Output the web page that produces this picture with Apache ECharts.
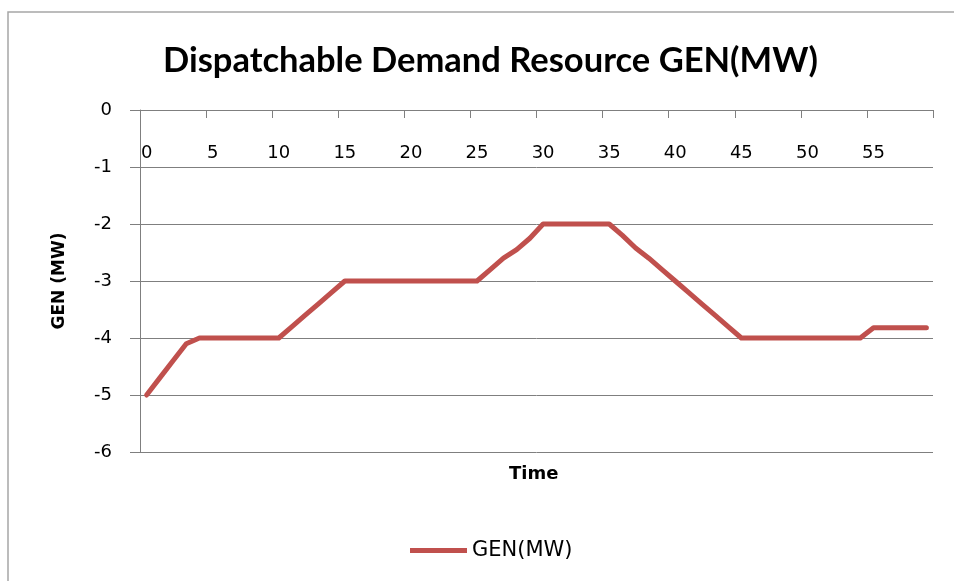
<!DOCTYPE html>
<html>
<head>
<meta charset="utf-8">
<script src="https://cdn.jsdelivr.net/npm/echarts@6/dist/echarts.min.js"></script>
<style>
html,body{margin:0;padding:0;background:#fff;}
#chart{width:954px;height:581px;}
</style>
</head>
<body>
<div id="chart"></div>
<script>
const minutes = ['0','1','2','3','4','5','6','7','8','9','10','11','12','13','14','15','16','17','18','19',
  '20','21','22','23','24','25','26','27','28','29','30','31','32','33','34','35','36','37','38','39',
  '40','41','42','43','44','45','46','47','48','49','50','51','52','53','54','55','56','57','58','59'];
const genMW = [-5, -4.7, -4.4, -4.1, -4,
  -4, -4, -4, -4, -4, -4,
  -3.8, -3.6, -3.4, -3.2, -3,
  -3, -3, -3, -3, -3, -3, -3, -3, -3, -3,
  -2.8, -2.6, -2.45, -2.25, -2,
  -2, -2, -2, -2, -2,
  -2.2, -2.42, -2.6, -2.8, -3, -3.2, -3.4, -3.6, -3.8, -4,
  -4, -4, -4, -4, -4, -4, -4, -4, -4,
  -3.82, -3.82, -3.82, -3.82, -3.82];
const yTicks = [-6, -5, -4, -3, -2, -1, 0];
const titleText = 'Dispatchable Demand Resource GEN(MW)';
const seriesName = 'GEN(MW)';
const xName = 'Time';
const yName = 'GEN (MW)';

const chart = echarts.init(document.getElementById('chart'), null, {renderer: 'canvas'});
const gray = '#7f7f7f';
const lblFont = 'DejaVu Sans';
chart.setOption({
  animation: false,
  backgroundColor: '#ffffff',
  title: {
    text: titleText,
    left: 158, top: 38,
    textStyle: {fontFamily: 'Lato', fontWeight: 'bold', fontSize: 34.5, color: '#000'}
  },
  grid: {left: 140, top: 110, right: 21, bottom: 129, containLabel: false},
  legend: {
    data: [{name: seriesName, icon: 'rect'}],
    left: 405, top: 535,
    itemWidth: 57, itemHeight: 5, itemGap: 4,
    textStyle: {fontFamily: lblFont, fontSize: 21, color: '#000', padding: [0,0,0,0]}
  },
  xAxis: {
    type: 'category',
    position: 'top',
    data: minutes,
    boundaryGap: true,
    axisLine: {show: true, onZero: false, lineStyle: {color: gray, width: 1}},
    axisTick: {show: true, inside: true, length: 8, interval: 4, lineStyle: {color: gray}},
    axisLabel: {inside: true, interval: 4, margin: 34, fontFamily: lblFont, fontSize: 18, color: '#000'},
    splitLine: {show: false}
  },
  yAxis: {
    type: 'value',
    min: yTicks[0], max: yTicks[yTicks.length - 1], interval: 1,
    name: yName, nameLocation: 'middle', nameRotate: 90, nameGap: 72,
    nameTextStyle: {fontFamily: lblFont, fontWeight: 'bold', fontSize: 17, color: '#000'},
    axisLine: {show: true, lineStyle: {color: gray, width: 1}},
    axisTick: {show: true, inside: false, length: 10, lineStyle: {color: gray}},
    axisLabel: {margin: 28, fontFamily: lblFont, fontSize: 18, color: '#000'},
    splitLine: {show: true, lineStyle: {color: gray, width: 1}}
  },
  graphic: [
    {type: 'rect', silent: true, z: -1,
     shape: {x: 8, y: 12, width: 1200, height: 800},
     style: {fill: 'none', stroke: '#a6a6a6', lineWidth: 1.5}},
    {type: 'text', left: 509, top: 465,
     style: {text: xName, fontFamily: lblFont, fontWeight: 'bold', fontSize: 18, fill: '#000'}}
  ],
  series: [{
    name: seriesName,
    type: 'line',
    data: genMW,
    showSymbol: false,
    symbol: 'none',
    itemStyle: {color: '#C0504D'},
    lineStyle: {color: '#C0504D', width: 5, cap: 'round', join: 'round'}
  }]
});
</script>
</body>
</html>
